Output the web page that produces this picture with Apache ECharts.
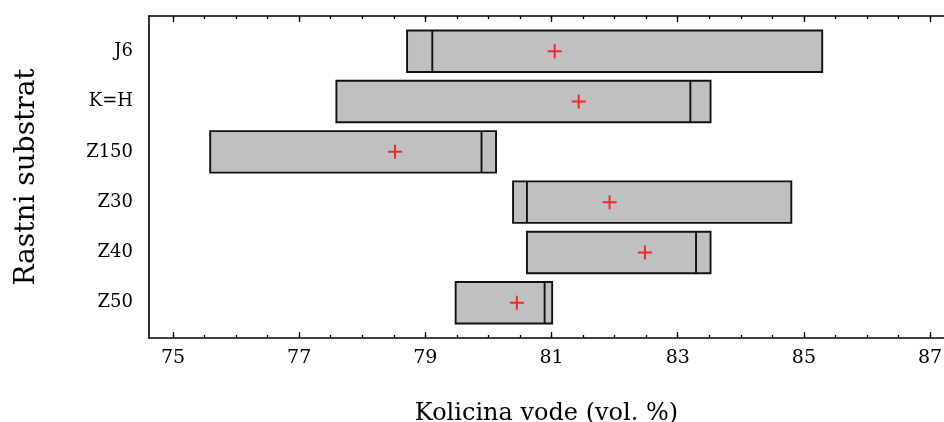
<!DOCTYPE html>
<html>
<head>
<meta charset="utf-8">
<script src="https://cdn.jsdelivr.net/npm/echarts@6/dist/echarts.min.js"></script>
<style>
  html, body { margin: 0; padding: 0; background: #fff; }
  #box-chart { width: 944px; height: 422px; }
</style>
</head>
<body>
<div id="box-chart"></div>
<script>
// substrate categories, top to bottom
var categories = ['J6', 'K=H', 'Z150', 'Z30', 'Z40', 'Z50'];
// box edges, median line and mean (red cross), vol. %
var q1Values = [78.71, 77.59, 75.59, 80.39, 80.61, 79.48];
var medianValues = [79.11, 83.20, 79.89, 80.61, 83.29, 80.89];
var q3Values = [85.29, 83.52, 80.12, 84.80, 83.52, 81.01];
var meanValues = [81.05, 81.43, 78.52, 81.92, 82.48, 80.45];
// x axis tick labels
var majorTicks = [75, 77, 79, 81, 83, 85, 87];
var minorTicks = [75, 75.5, 76, 76.5, 77, 77.5, 78, 78.5, 79, 79.5, 80, 80.5, 81, 81.5,
  82, 82.5, 83, 83.5, 84, 84.5, 85, 85.5, 86, 86.5, 87];

document.addEventListener('DOMContentLoaded', function () {
  var myChart = echarts.init(document.getElementById('box-chart'));
  var font = 'DejaVu Serif';
  var xMin = 74.62, xMax = 87.22;

  var boxData = categories.map(function (c, i) {
    return [i + 1, q1Values[i], medianValues[i], q3Values[i]];
  });
  var meanData = categories.map(function (c, i) {
    return [meanValues[i], i + 1];
  });

  function xAxisBase(pos) {
    return {
      type: 'value', position: pos, min: xMin, max: xMax,
      splitLine: { show: false }
    };
  }

  var option = {
    animation: false,
    grid: { left: 149, right: 0, top: 16, bottom: 84, outerBoundsMode: 'none', containLabel: false },
    xAxis: [
      Object.assign(xAxisBase('bottom'), {
        axisLine: { show: true, lineStyle: { color: '#000', width: 1.6 } },
        axisTick: { show: true, inside: true, length: 3, customValues: minorTicks, lineStyle: { color: '#000', width: 1.3 } },
        axisLabel: { customValues: majorTicks, color: '#000', fontFamily: font, fontSize: 19, margin: 11 },
        name: 'Kolicina vode (vol. %)', nameLocation: 'middle', nameGap: 64,
        nameTextStyle: { color: '#000', fontFamily: font, fontSize: 24 }
      }),
      Object.assign(xAxisBase('bottom'), {
        axisLine: { show: false },
        axisTick: { show: true, inside: true, length: 6, customValues: majorTicks, lineStyle: { color: '#000', width: 1.3 } },
        axisLabel: { show: false }
      }),
      Object.assign(xAxisBase('top'), {
        axisLine: { show: true, lineStyle: { color: '#000', width: 1.6 } },
        axisTick: { show: true, inside: true, length: 3, customValues: minorTicks, lineStyle: { color: '#000', width: 1.3 } },
        axisLabel: { show: false }
      }),
      Object.assign(xAxisBase('top'), {
        axisLine: { show: false },
        axisTick: { show: true, inside: true, length: 6, customValues: majorTicks, lineStyle: { color: '#000', width: 1.3 } },
        axisLabel: { show: false }
      })
    ],
    yAxis: {
      type: 'value', inverse: true, min: 0.3, max: 6.7,
      splitLine: { show: false },
      axisLine: { show: true, lineStyle: { color: '#000', width: 1.6 } },
      axisTick: { show: false },
      axisLabel: {
        customValues: [1, 2, 3, 4, 5, 6],
        formatter: function (v) { return categories[Math.round(v) - 1] || ''; },
        color: '#000', fontFamily: font, fontSize: 18, margin: 16
      },
      name: 'Rastni substrat', nameLocation: 'middle', nameRotate: 90, nameGap: 108,
      nameTextStyle: { color: '#000', fontFamily: font, fontSize: 28 }
    },
    series: [
      {
        type: 'custom',
        xAxisIndex: 0,
        data: boxData,
        encode: { x: [1, 2, 3], y: 0 },
        renderItem: function (params, api) {
          var y = api.value(0);
          var left = api.coord([api.value(1), y]);
          var med = api.coord([api.value(2), y]);
          var right = api.coord([api.value(3), y]);
          var h = api.size([0, 0.825])[1];
          return {
            type: 'group',
            children: [
              {
                type: 'rect',
                shape: { x: left[0], y: left[1] - h / 2, width: right[0] - left[0], height: h },
                style: { fill: '#c0c0c0', stroke: '#111', lineWidth: 1.9 }
              },
              {
                type: 'line',
                shape: { x1: med[0], y1: med[1] - h / 2, x2: med[0], y2: med[1] + h / 2 },
                style: { stroke: '#111', lineWidth: 1.9 }
              }
            ]
          };
        }
      },
      {
        type: 'scatter',
        xAxisIndex: 0,
        data: meanData,
        symbol: 'path://M0,4.3H10V5.7H0Z M4.3,0H5.7V10H4.3Z',
        symbolSize: 14,
        itemStyle: { color: '#ff0000' },
        z: 5
      }
    ]
  };

  myChart.setOption(option);
  window.addEventListener('resize', function () { myChart.resize(); });
});
</script>
</body>
</html>
